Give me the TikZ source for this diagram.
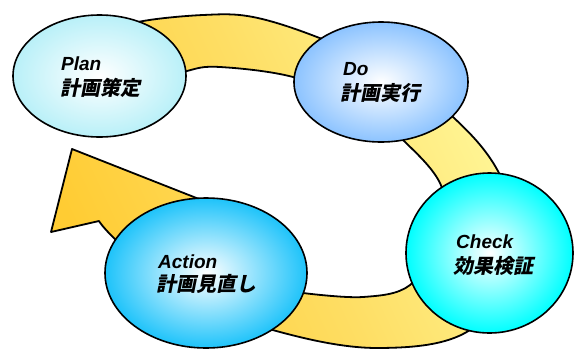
\documentclass[tikz,border=0pt]{standalone}
\usepackage{fontspec}
\setmainfont{Liberation Sans}
\newfontfamily\jpfont{Noto Sans CJK JP}
\usetikzlibrary{shapes.geometric}
\definecolor{planC}{RGB}{185,240,248}
\definecolor{doC}{RGB}{140,195,255}
\definecolor{checkC}{RGB}{0,255,255}
\definecolor{actC}{RGB}{30,195,250}
\definecolor{bandA}{RGB}{255,204,51}
\definecolor{bandM}{RGB}{254,222,100}
\definecolor{bandB}{RGB}{255,247,153}
\pgfdeclarehorizontalshading{bandshade}{100bp}{color(0bp)=(bandA); color(25bp)=(bandA); color(50bp)=(bandM); color(75bp)=(bandB); color(100bp)=(bandB)}
\tikzset{
  bub/.style={ellipse, draw=black, line width=1.6pt, inner sep=0pt, inner color=white},
  lat/.style={inner sep=0pt, anchor=base west, font=\fontsize{19}{22}\selectfont\bfseries\itshape},
  jp/.style={inner sep=0pt, anchor=base west, transform shape, font=\fontsize{20}{24}\selectfont\jpfont\bfseries},
  slanted/.style={shift={#1}, xslant=0.2},
  band/.style={draw=black, line width=1.8pt, line join=round, shading=bandshade, shading angle=25}
}
\begin{document}
\begin{tikzpicture}[x=1pt,y=-1pt]
\useasboundingbox (0,0) rectangle (574,349);
% circular arrow band
\shadedraw[band]
  plot[smooth, tension=0.6] coordinates {(99,221) (115,239) (175,293) (280,332) (380,348) (470,330) (522,255) (500,175) (453,117) (385,68) (317,37) (253,17) (203,15) (138,22) (110,35)}
  -- (150,85)
  -- plot[smooth, tension=0.6] coordinates {(150,85) (187,71) (220,67) (293,77) (355,103) (403,140) (442,188) (436,240) (410,285) (363,297) (303,293)}
  -- (232,212) -- (72,149) -- (51,232) -- cycle;
% ellipses
\node[bub, minimum width=173pt, minimum height=122pt, outer color=planC] (plan) at (99.5,76) {};
\node[bub, minimum width=174pt, minimum height=120pt, outer color=doC] (do) at (381,82) {};
\node[bub, minimum width=167pt, minimum height=160pt, outer color=checkC] (check) at (489.5,253) {};
\node[bub, minimum width=202pt, minimum height=150pt, outer color=actC] (act) at (206,273) {};
% labels
\node[lat] (planL) at (61,70) {Plan};
\node[lat] (doL) at (343,75) {Do};
\node[lat] (checkL) at (456,248) {Check};
\node[lat] (actL) at (158,268) {Action};
\begin{scope}[slanted={(60,95)}]
  \node[jp] (planJ) at (0,0) {計画策定};
\end{scope}
\begin{scope}[slanted={(340,100)}]
  \node[jp] (doJ) at (0,0) {計画実行};
\end{scope}
\begin{scope}[slanted={(453,273)}]
  \node[jp] (checkJ) at (0,0) {効果検証};
\end{scope}
\begin{scope}[slanted={(156,291)}]
  \node[jp] (actJ) at (0,0) {計画見直し};
\end{scope}
\end{tikzpicture}
\end{document}
